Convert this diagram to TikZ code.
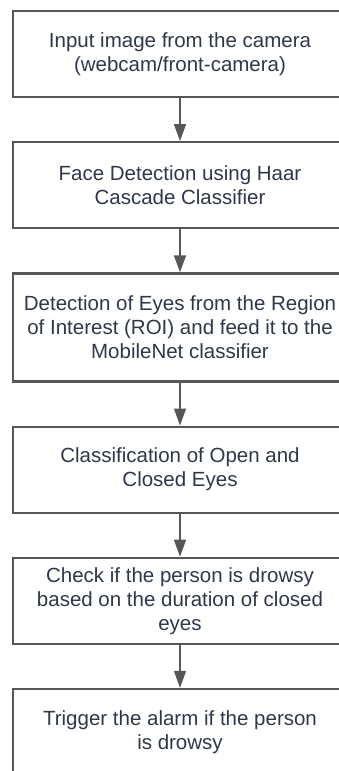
\documentclass[tikz,border=0pt]{standalone}
\usepackage{fontspec}
\setmainfont{Liberation Sans}
\usetikzlibrary{positioning, arrows.meta}
\definecolor{boxline}{HTML}{575757}
\definecolor{boxtext}{HTML}{2E3849}

\begin{document}
\begin{tikzpicture}[x=1pt, y=-1pt]
			\tikzstyle{stepbox}=[
			draw=boxline,
			line width=2.2pt,
			rectangle,
			minimum width=334pt,
			minimum height=86pt,
			inner sep=0pt,
			align=center,
			text=boxtext,
			font=\fontsize{20.5}{24}\selectfont
			]
			\tikzstyle{flow}=[
			draw=boxline,
			line width=1.5pt,
			-{Triangle[width=12pt,length=17pt]}
			]
			\useasboundingbox (0,0) rectangle (339,771);
			\node[stepbox] (input) at (180,54) {Input image from the camera\\(webcam/front-camera)};
			\node[stepbox, below=43pt of input] (face) {Face Detection using Haar\\Cascade Classifier};
			\node[stepbox, below=43pt of face, minimum height=108pt] (eyes) {Detection of Eyes from the Region\\of Interest (ROI) and feed it to the\\MobileNet classifier};
			\node[stepbox, below=43pt of eyes] (classify) {Classification of Open and\\Closed Eyes};
			\node[stepbox, below=43pt of classify] (check) {Check if the person is drowsy\\based on the duration of closed\\eyes};
			\node[stepbox, below=43pt of check] (alarm) {Trigger the alarm if the person\\is drowsy};
			\draw[flow] (input) -- (face);
			\draw[flow] (face) -- (eyes);
			\draw[flow] (eyes) -- (classify);
			\draw[flow] (classify) -- (check);
			\draw[flow] (check) -- (alarm);
			%\node[draw=boxline, fit=(input)] {};
		\end{tikzpicture}
\end{document}
